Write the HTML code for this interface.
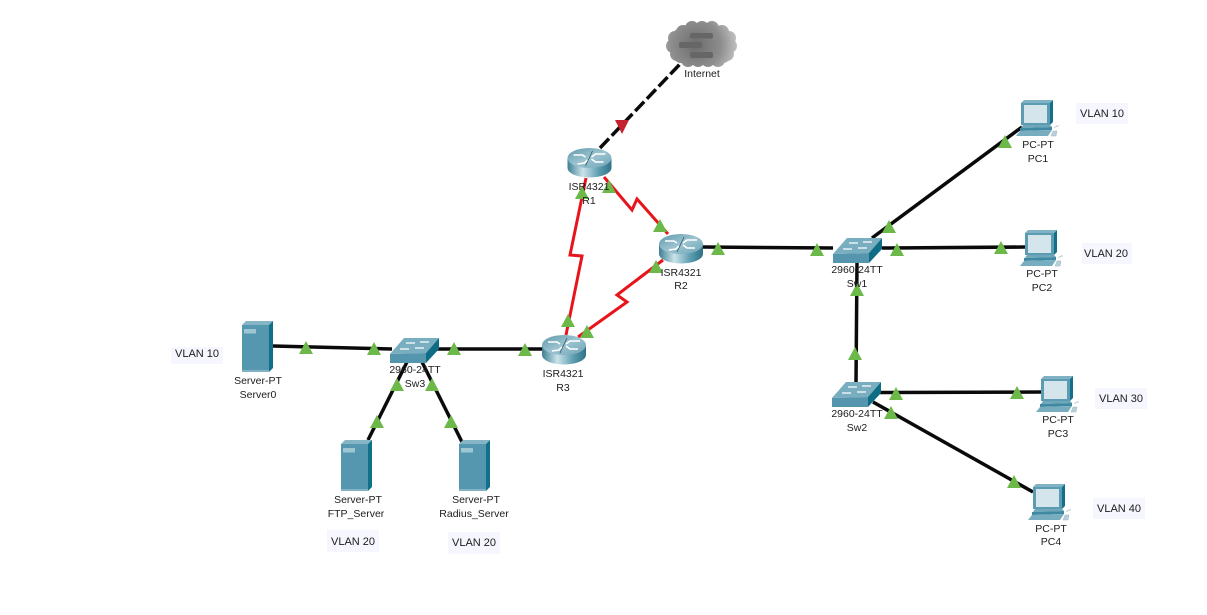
<!DOCTYPE html>
<html>
<head>
<meta charset="utf-8">
<style>
html,body{margin:0;padding:0;background:#fff;width:1207px;height:615px;overflow:hidden}
svg{display:block}
text{font-family:"Liberation Sans",sans-serif;font-size:10.5px;fill:#1c1c1c;text-anchor:middle}
text.v{font-size:11px}
</style>
</head>
<body>
<svg width="1207" height="615" viewBox="0 0 1207 615" xmlns="http://www.w3.org/2000/svg">
<defs>
<linearGradient id="rb" x1="0" x2="1" y1="0" y2="0">
<stop offset="0" stop-color="#3f7f93"/><stop offset=".35" stop-color="#cbe3e9"/><stop offset=".7" stop-color="#5f9fb2"/><stop offset="1" stop-color="#2f7288"/>
</linearGradient>
<linearGradient id="rt" x1="0" x2="1" y1="0" y2="1">
<stop offset="0" stop-color="#5f98ab"/><stop offset=".5" stop-color="#9cc4d0"/><stop offset="1" stop-color="#6ea4b6"/>
</linearGradient>
<radialGradient id="cg" gradientUnits="userSpaceOnUse" cx="696" cy="45" r="42">
<stop offset="0" stop-color="#6c6c6c"/><stop offset=".6" stop-color="#8e8e8e"/><stop offset="1" stop-color="#c4c4c4"/>
</radialGradient>
<g id="router">
<rect x="-22" y="0" width="44" height="10" fill="url(#rb)"/>
<ellipse cx="0" cy="10" rx="22" ry="9.5" fill="url(#rb)"/>
<ellipse cx="0" cy="0" rx="22" ry="10" fill="url(#rt)"/>
<path d="M-16-3h9l3 2M16-4H6l-4 3M-12 6l7-1 3-3M14 4H6L2 1" fill="none" stroke="#fff" stroke-width="1.6"/>
<path d="M-4 8 3-7" stroke="#24505f" stroke-width=".7" fill="none"/>
</g>
<g id="switch">
<polygon points="0,16 14,0 49,0 36,15" fill="#79aec0"/>
<polygon points="0,16 36,15 36,25 0,25" fill="#5596ae"/>
<polygon points="36,15 49,0 49,11 36,25" fill="#0f6c85"/>
<path d="M16 5h9M30 4h9M10 11h9M25 10h9" stroke="#fff" stroke-width="1.2" fill="none"/>
</g>
<g id="pc">
<polygon points="0,3 3,0 32,0 29,3" fill="#7fb2c3"/>
<rect x="0" y="3" width="29" height="22" fill="#5b9cb2"/>
<polygon points="29,3 32,0 32,22 29,25" fill="#14708a"/>
<rect x="3" y="5" width="23" height="18" fill="#d5e5ec"/>
<polygon points="2,25 29,25 31,27 0,28" fill="#6fa7ba"/>
<polygon points="-1,28 31,27 31,30 -1,31" fill="#3f8aa2"/>
<polygon points="-5,36 -1,31 31,30 27,36" fill="#78adc0"/>
<path d="M33 28q3-3 5-2M32 31h4l-1 5h-5z" fill="#b9cfd7" stroke="#9bb8c2" stroke-width=".5"/>
</g>
<g id="server">
<polygon points="0,4 4,0 31,0 27,4" fill="#86b6c6"/>
<rect x="0" y="4" width="27" height="47" fill="#5597ae"/>
<polygon points="27,4 31,0 31,47 27,51" fill="#11708a"/>
<rect x="2" y="8" width="12" height="4.5" fill="#9fc6d3"/>
<rect x="0" y="49" width="27" height="2" fill="#83b3c3"/>
</g>
<polygon id="t" points="0,0 7,13 -7,13" fill="#6cb94a"/>
</defs>

<!-- VLAN label backgrounds -->
<g fill="#f6f6ff">
<rect x="1076" y="103" width="52" height="21"/>
<rect x="1082" y="243" width="50" height="21"/>
<rect x="1095" y="388" width="52" height="21"/>
<rect x="1093" y="498" width="52" height="21"/>
<rect x="171" y="347" width="52" height="17"/>
<rect x="327" y="530" width="52" height="22"/>
<rect x="448" y="532" width="52" height="22"/>
</g>

<!-- Black links -->
<g stroke="#0a0a0a" stroke-width="3.5" fill="none">
<path d="M273 346L392 349"/>
<path d="M437 349H543"/>
<path d="M407 362L368 440"/>
<path d="M422 362L462 442"/>
<path d="M703 247L833 248"/>
<path d="M872 238L1022 127"/>
<path d="M882 248L1026 247"/>
<path d="M857 263L856 382"/>
<path d="M880 392.5L1042 392"/>
<path d="M873 402L1033 492"/>
<path d="M600 148L681 63" stroke-dasharray="13 4"/>
</g>

<!-- Red serial links -->
<g stroke="#e8141c" stroke-width="3" fill="none" stroke-linejoin="miter">
<path d="M586 178L570 255L582 256L566 335"/>
<path d="M604 177L632 210L637 199L668 234"/>
<path d="M663 260L617 295L627 302L578 337"/>
</g>

<!-- Cloud -->
<g fill="url(#cg)">
<rect x="673" y="28" width="58" height="35" rx="8"/>
<circle cx="675" cy="38" r="7"/><circle cx="673" cy="46" r="7"/><circle cx="677" cy="54" r="7"/>
<circle cx="683" cy="32" r="7"/><circle cx="692" cy="28" r="7"/><circle cx="702" cy="28" r="7"/>
<circle cx="712" cy="28" r="7"/><circle cx="722" cy="32" r="7"/><circle cx="729" cy="38" r="7"/>
<circle cx="730" cy="46" r="7"/><circle cx="727" cy="54" r="7"/><circle cx="718" cy="60" r="7"/>
<circle cx="708" cy="60" r="7"/><circle cx="698" cy="60" r="7"/><circle cx="688" cy="60" r="7"/>
</g>
<g fill="#666">
<rect x="690" y="33" width="23" height="5.5" rx="2"/>
<rect x="679" y="42" width="23" height="6" rx="2"/>
<rect x="690" y="52" width="23" height="6" rx="2"/>
</g>

<!-- Devices -->
<use href="#router" x="589.5" y="158"/>
<use href="#router" x="681" y="244"/>
<use href="#router" x="564" y="345"/>
<use href="#switch" x="833" y="238"/>
<use href="#switch" x="832" y="382"/>
<use href="#switch" x="390" y="338"/>
<use href="#pc" x="1021" y="100"/>
<use href="#pc" x="1025" y="230"/>
<use href="#pc" x="1041" y="376"/>
<use href="#pc" x="1033" y="484"/>
<use href="#server" x="242" y="321"/>
<use href="#server" x="341" y="440"/>
<use href="#server" x="459" y="440"/>

<!-- Link lights -->
<polygon points="615,120 629,120 622,134" fill="#c4202e"/>
<use href="#t" x="306" y="341"/>
<use href="#t" x="374" y="342"/>
<use href="#t" x="454" y="342"/>
<use href="#t" x="525" y="343"/>
<use href="#t" x="397" y="378"/>
<use href="#t" x="432" y="378"/>
<use href="#t" x="377" y="415"/>
<use href="#t" x="451" y="415"/>
<use href="#t" x="582" y="186"/>
<use href="#t" x="609" y="180"/>
<use href="#t" x="660" y="219"/>
<use href="#t" x="656" y="260"/>
<use href="#t" x="718" y="242"/>
<use href="#t" x="568" y="314"/>
<use href="#t" x="587" y="325"/>
<use href="#t" x="817" y="243"/>
<use href="#t" x="889" y="220"/>
<use href="#t" x="897" y="243"/>
<use href="#t" x="1001" y="241"/>
<use href="#t" x="1005" y="135"/>
<use href="#t" x="857" y="283"/>
<use href="#t" x="855" y="347"/>
<use href="#t" x="896" y="387"/>
<use href="#t" x="1017" y="386"/>
<use href="#t" x="891" y="406"/>
<use href="#t" x="1014" y="475"/>

<!-- Labels -->
<text x="702" y="77">Internet</text>
<text x="589" y="190">ISR4321</text><text x="589" y="204">R1</text>
<text x="681" y="276">ISR4321</text><text x="681" y="289">R2</text>
<text x="563" y="377">ISR4321</text><text x="563" y="391">R3</text>
<text x="857" y="273">2960-24TT</text><text x="857" y="287">Sw1</text>
<text x="857" y="417">2960-24TT</text><text x="857" y="431">Sw2</text>
<text x="415" y="373">2960-24TT</text><text x="415" y="387">Sw3</text>
<text x="258" y="384">Server-PT</text><text x="258" y="398">Server0</text>
<text x="358" y="503">Server-PT</text><text x="356" y="517">FTP_Server</text>
<text x="476" y="503">Server-PT</text><text x="474" y="517">Radius_Server</text>
<text x="1038" y="148">PC-PT</text><text x="1038" y="162">PC1</text>
<text x="1042" y="277">PC-PT</text><text x="1042" y="291">PC2</text>
<text x="1058" y="423">PC-PT</text><text x="1058" y="437">PC3</text>
<text x="1051" y="532">PC-PT</text><text x="1051" y="545">PC4</text>
<text class="v" x="1102" y="117">VLAN 10</text>
<text class="v" x="1106" y="257">VLAN 20</text>
<text class="v" x="1121" y="402">VLAN 30</text>
<text class="v" x="1119" y="512">VLAN 40</text>
<text class="v" x="197" y="357">VLAN 10</text>
<text class="v" x="353" y="545">VLAN 20</text>
<text class="v" x="474" y="546">VLAN 20</text>
</svg>
</body>
</html>
